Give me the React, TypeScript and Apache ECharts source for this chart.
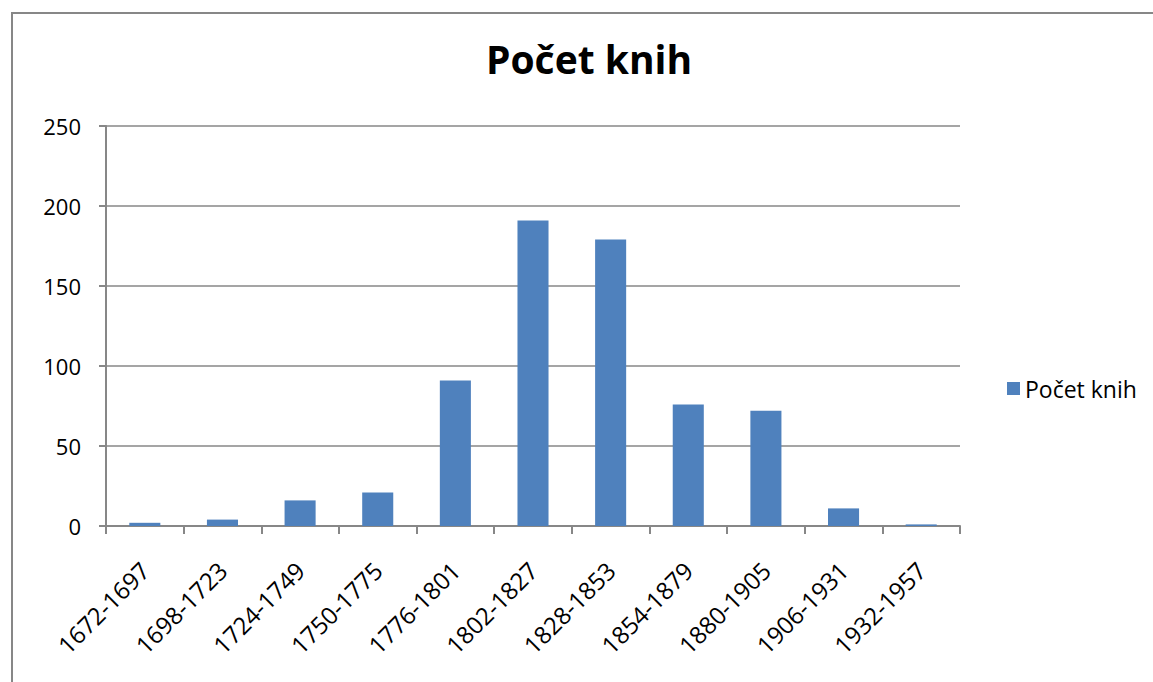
import React, { useEffect, useRef } from "react";
import * as echarts from "echarts";

const categories = [
  "1672-1697", "1698-1723", "1724-1749", "1750-1775", "1776-1801",
  "1802-1827", "1828-1853", "1854-1879", "1880-1905", "1906-1931", "1932-1957",
];
const bookCounts = [2, 4, 16, 21, 91, 191, 179, 76, 72, 11, 1];
const seriesName = "Počet knih";
const titleText = "Počet knih";

const FONT = "'Open Sans', 'Noto Sans', sans-serif";
const GRAY = "#878787";

export default function App() {
  const ref = useRef<HTMLDivElement>(null);
  useEffect(() => {
    document.body.style.margin = "0";
    const chart = echarts.init(ref.current!, null, { renderer: "svg" });
    chart.setOption({
      animation: false,
      backgroundColor: "#ffffff",
      textStyle: { fontFamily: FONT },
      title: {
        text: titleText,
        left: 584,
        textAlign: "center",
        top: 34,
        textStyle: { fontSize: 39, fontWeight: "bold", color: "#000", fontFamily: FONT },
      },
      graphic: [
        {
          type: "rect",
          shape: { x: 12, y: 13, width: 1160, height: 700 },
          style: { fill: "none", stroke: GRAY, lineWidth: 2 },
          silent: true,
        },
      ],
      legend: {
        left: 1002,
        top: 372,
        itemWidth: 13,
        itemHeight: 13,
        itemGap: 7,
        icon: "rect",
        textStyle: { fontSize: 23, color: "#000", fontFamily: FONT },
        data: [seriesName],
      },
      grid: { left: 106, top: 126, width: 854, height: 400, containLabel: false },
      xAxis: {
        type: "category",
        data: categories,
        axisLine: { show: true, lineStyle: { color: GRAY, width: 2 } },
        axisTick: { show: true, length: 8, alignWithLabel: false, lineStyle: { color: GRAY, width: 2 } },
        axisLabel: { rotate: 45, fontSize: 24, color: "#000", margin: 40, interval: 0, fontFamily: FONT },
        splitLine: { show: false },
      },
      yAxis: {
        type: "value",
        min: 0,
        max: 250,
        interval: 50,
        axisLine: { show: true, lineStyle: { color: GRAY, width: 2 } },
        axisTick: { show: true, length: 7, lineStyle: { color: GRAY, width: 2 } },
        axisLabel: { fontSize: 22, color: "#000", margin: 25, fontFamily: FONT },
        splitLine: { show: true, lineStyle: { color: GRAY, width: 1.5 } },
      },
      series: [
        {
          name: seriesName,
          type: "bar",
          data: bookCounts,
          barWidth: "40%",
          itemStyle: { color: "#4f81bd" },
        },
      ],
    });
    return () => chart.dispose();
  }, []);
  return (
    <div
      ref={ref}
      style={{ position: "fixed", left: 0, top: 0, width: 1153, height: 682 }}
    />
  );
}
